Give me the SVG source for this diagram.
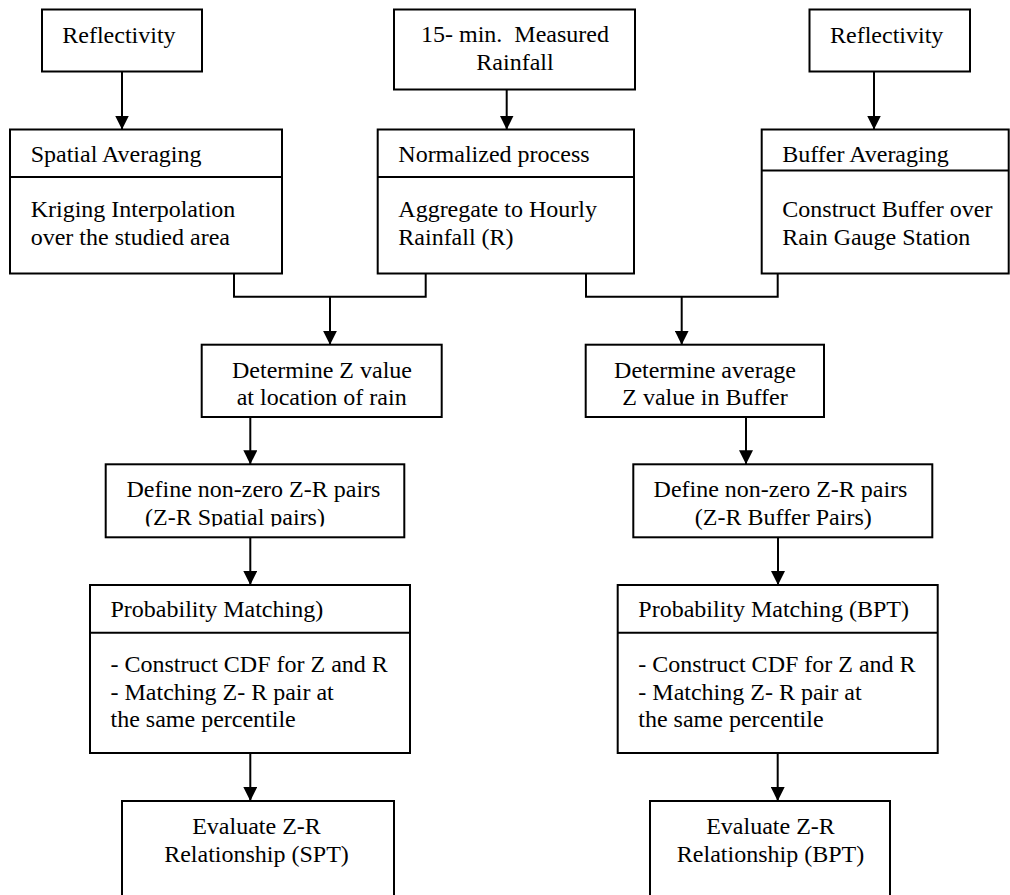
<svg xmlns="http://www.w3.org/2000/svg" width="1010" height="895" viewBox="0 0 1010 895">
<style>
.box{fill:#fff;stroke:#000;stroke-width:2}
.div{stroke:#000;stroke-width:2;fill:none}
.t{font-family:"Liberation Serif","Times New Roman",serif;font-size:24px;fill:#000;white-space:pre}
.c{text-anchor:middle}
.ln{stroke:#000;stroke-width:2;fill:none}
.ar{stroke:#000;stroke-width:2;fill:none;marker-end:url(#ah)}
</style>
<defs>
<marker id="ah" markerUnits="userSpaceOnUse" markerWidth="14" markerHeight="14" refX="14" refY="7" orient="auto">
<path d="M0,0 L14,7 L0,14 z" fill="#000"/>
</marker>
<clipPath id="clipL"><rect x="100" y="460" width="310" height="66.5"/></clipPath>
</defs>
<rect x="0" y="0" width="1010" height="895" fill="#fff"/>

<g id="connectors">
<line class="ar" x1="122" y1="71.5" x2="122" y2="129.5"/>
<line class="ar" x1="506.7" y1="89.5" x2="506.7" y2="129.5"/>
<line class="ar" x1="874" y1="71.5" x2="874" y2="129.5"/>
<polyline class="ln" points="234,273.5 234,296.7 425.7,296.7 425.7,273.5"/>
<polyline class="ln" points="586,273.5 586,296.7 777.7,296.7 777.7,273.5"/>
<line class="ar" x1="330" y1="296.7" x2="330" y2="344.7"/>
<line class="ar" x1="681.7" y1="296.7" x2="681.7" y2="344.7"/>
<line class="ar" x1="250.3" y1="417" x2="250.3" y2="464.3"/>
<line class="ar" x1="746" y1="417" x2="746" y2="464.3"/>
<line class="ar" x1="250.3" y1="537.3" x2="250.3" y2="585"/>
<line class="ar" x1="778" y1="537.3" x2="778" y2="585"/>
<line class="ar" x1="250.3" y1="753" x2="250.3" y2="801"/>
<line class="ar" x1="777.7" y1="753" x2="777.7" y2="801"/>
</g>

<g id="reflectivity-left">
<rect class="box" x="42" y="9.5" width="160" height="62"/>
<text class="t" x="62.3" y="42.5">Reflectivity</text>
</g>

<g id="measured-rainfall">
<rect class="box" x="394" y="9.5" width="241" height="80"/>
<text class="t c" x="515" y="42">15- min.  Measured</text>
<text class="t c" x="515" y="69.5">Rainfall</text>
</g>

<g id="reflectivity-right">
<rect class="box" x="809.5" y="9.5" width="160.5" height="62"/>
<text class="t" x="830" y="42.5">Reflectivity</text>
</g>

<g id="spatial-averaging">
<rect class="box" x="10" y="129.5" width="272" height="144"/>
<line class="div" x1="10" y1="177" x2="282" y2="177"/>
<text class="t" x="30.7" y="162">Spatial Averaging</text>
<text class="t" x="30.7" y="217">Kriging Interpolation</text>
<text class="t" x="30.7" y="245">over the studied area</text>
</g>

<g id="normalized-process">
<rect class="box" x="377.7" y="129.5" width="256.3" height="144"/>
<line class="div" x1="377.7" y1="177" x2="634" y2="177"/>
<text class="t" x="398.3" y="162">Normalized process</text>
<text class="t" x="398.3" y="217">Aggregate to Hourly</text>
<text class="t" x="398.3" y="245">Rainfall (R)</text>
</g>

<g id="buffer-averaging">
<rect class="box" x="761.7" y="129.5" width="247" height="144"/>
<line class="div" x1="761.7" y1="170.5" x2="1008.7" y2="170.5"/>
<text class="t" x="782.3" y="161.7">Buffer Averaging</text>
<text class="t" x="782.3" y="217">Construct Buffer over</text>
<text class="t" x="782.3" y="245">Rain Gauge Station</text>
</g>

<g id="determine-z">
<rect class="box" x="201.7" y="344.7" width="240" height="72.3"/>
<text class="t c" x="322" y="378">Determine Z value</text>
<text class="t c" x="321.7" y="405">at location of rain</text>
</g>

<g id="determine-avg-z">
<rect class="box" x="585.7" y="344.7" width="238.3" height="72.3"/>
<text class="t c" x="705" y="378">Determine average</text>
<text class="t c" x="705" y="405">Z value in Buffer</text>
</g>

<g id="define-spatial-pairs">
<rect class="box" x="105.7" y="464.3" width="298.6" height="73"/>
<text class="t" x="126.5" y="497.3">Define non-zero Z-R pairs</text>
<text class="t" x="145" y="524.5" clip-path="url(#clipL)">(Z-R Spatial pairs)</text>
</g>

<g id="define-buffer-pairs">
<rect class="box" x="633.3" y="464.3" width="299" height="73"/>
<text class="t c" x="780.5" y="497.3">Define non-zero Z-R pairs</text>
<text class="t c" x="783.3" y="524.5">(Z-R Buffer Pairs)</text>
</g>

<g id="probability-matching-left">
<rect class="box" x="90" y="585" width="320" height="168"/>
<line class="div" x1="90" y1="632.7" x2="410" y2="632.7"/>
<text class="t" x="110.5" y="616.7">Probability Matching)</text>
<text class="t" x="110.5" y="672">- Construct CDF for Z and R</text>
<text class="t" x="110.5" y="700">- Matching Z- R pair at</text>
<text class="t" x="110.5" y="727">the same percentile</text>
</g>

<g id="probability-matching-right">
<rect class="box" x="617.7" y="585" width="320" height="168"/>
<line class="div" x1="617.7" y1="632.7" x2="937.7" y2="632.7"/>
<text class="t" x="638.3" y="616.7">Probability Matching (BPT)</text>
<text class="t" x="638.3" y="672">- Construct CDF for Z and R</text>
<text class="t" x="638.3" y="700">- Matching Z- R pair at</text>
<text class="t" x="638.3" y="727">the same percentile</text>
</g>

<g id="evaluate-spt">
<rect class="box" x="122" y="801" width="272" height="110"/>
<text class="t c" x="256.5" y="834">Evaluate Z-R</text>
<text class="t c" x="256.5" y="862">Relationship (SPT)</text>
</g>

<g id="evaluate-bpt">
<rect class="box" x="650" y="801" width="240" height="110"/>
<text class="t c" x="770.5" y="834">Evaluate Z-R</text>
<text class="t c" x="770.5" y="862">Relationship (BPT)</text>
</g>
</svg>
